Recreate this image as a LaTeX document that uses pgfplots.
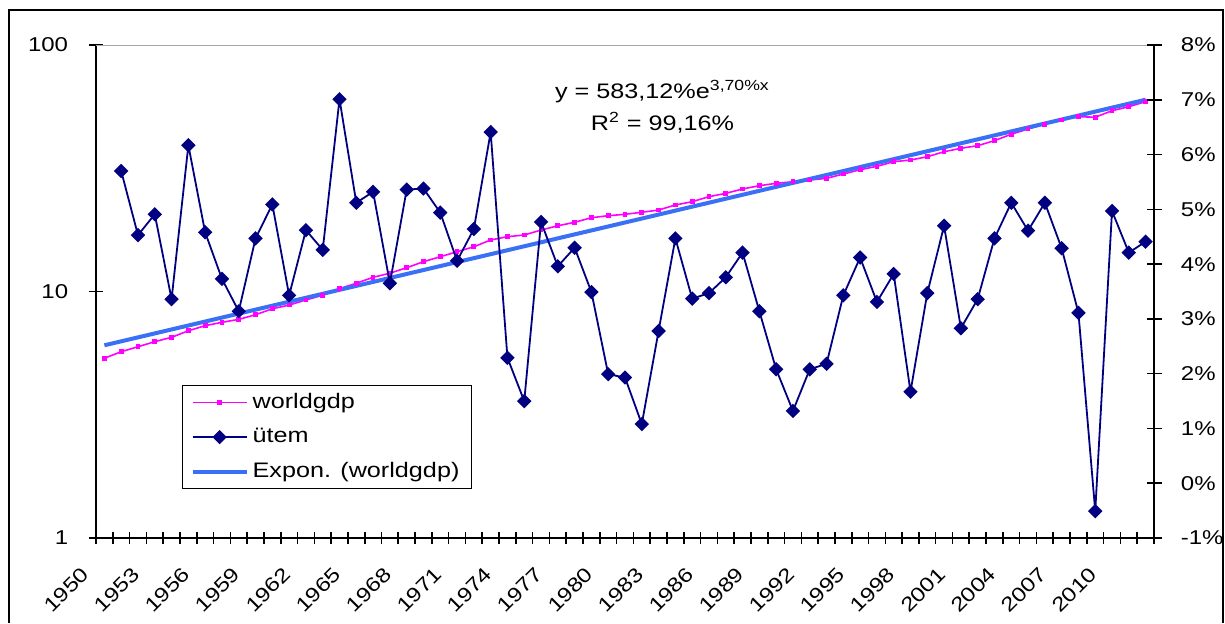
\documentclass[border=0pt]{standalone}
\usepackage{pgfplots}
\pgfplotsset{compat=1.18}
\usepackage{fontspec}
\setmainfont{Liberation Sans}[FakeStretch=1.2]
\definecolor{gdppink}{RGB}{255,0,255}
\definecolor{utemnavy}{RGB}{0,0,128}
\definecolor{trendblue}{RGB}{58,112,245}
\begin{document}
\begin{tikzpicture}
\path[use as bounding box] (0,0) rectangle (612.5pt,311.5pt);
\draw[line width=0.7pt] (4.5pt,0) -- (4.5pt,306.5pt) -- (611.5pt,306.5pt) -- (611.5pt,0);
\pgfplotsset{
  every axis/.append style={
    scale only axis, width=529pt, height=246.5pt,
    at={(48pt,42.5pt)}, anchor=south west,
    xmin=1949.5, xmax=2012.5,
    tick align=center,
    /pgf/number format/assume math mode=true,
    tick label style={font=\fontsize{10pt}{12pt}\selectfont},
    axis line style={line width=0.8pt},
    every tick/.style={black, line width=0.8pt},
  }
}
\begin{axis}[
  ymode=log, ymin=1, ymax=100,
  axis x line*=bottom, axis y line*=left,
  ytick={1,10,100}, yticklabels={1,10,100},
  yticklabel style={anchor=east, inner sep=0pt, xshift=-10pt},
  yminorticks=false,
  major tick length=7.5pt,
  minor tick length=6pt,
  xtick={1950,1953,...,2010},
  xticklabels={1950,1953,1956,1959,1962,1965,1968,1971,1974,1977,1980,1983,1986,1989,1992,1995,1998,2001,2004,2007,2010},
  minor xtick={1949.5,1950.5,...,2012.5},
  major x tick style={draw=none},
  xticklabel style={xshift=-12pt, yshift=-10pt, rotate=45, anchor=north east, inner sep=0pt},
  legend cell align=left,
  legend style={at={(0.0813,0.3103)}, anchor=north west, draw=black, line width=0.6pt,
    font=\fontsize{10.5pt}{12.6pt}\selectfont, inner xsep=4pt, inner ysep=1.9pt,
    row sep=4.4pt},
  legend image code/.code={\draw[mark repeat=2,mark phase=2,#1] plot coordinates {(0pt,0pt) (13.5pt,0pt) (27pt,0pt)};},
]
\draw[gray!70, line width=0.7pt] (rel axis cs:0,1) -- (rel axis cs:1,1);
\addplot[gdppink, line width=0.8pt, mark=square*, mark size=0.8pt] coordinates {
(1950,5.36) (1951,5.70) (1952,5.97) (1953,6.26) (1954,6.52) (1955,6.93) (1956,7.27) (1957,7.50) (1958,7.71) (1959,8.05)
(1960,8.51) (1961,8.81) (1962,9.24) (1963,9.66) (1964,10.27) (1965,10.80) (1966,11.42) (1967,11.86) (1968,12.49) (1969,13.21)
(1970,13.84) (1971,14.50) (1972,15.19) (1973,16.18) (1974,16.69) (1975,16.95) (1976,17.76) (1977,18.48) (1978,19.09) (1979,19.93)
(1980,20.30) (1981,20.57) (1982,20.96) (1983,21.41) (1984,22.44) (1985,23.14) (1986,24.25) (1987,25.02) (1988,26.06) (1989,26.87)
(1990,27.47) (1991,27.88) (1992,28.33) (1993,28.78) (1994,29.97) (1995,31.20) (1996,32.20) (1997,33.63) (1998,34.15) (1999,35.22)
(2000,36.91) (2001,38.10) (2002,39.05) (2003,40.93) (2004,43.45) (2005,45.62) (2006,47.67) (2007,49.63) (2008,51.18) (2009,50.95)
(2010,54.12) (2011,56.20) (2012,58.90)
};
\addlegendentry{worldgdp}
\addlegendimage{utemnavy, line width=0.9pt, mark=square*, mark size=2.1pt, mark options={rotate=45}}
\addlegendentry{ütem}
\addplot[trendblue, line width=2pt] coordinates {
(1950,6.051) (1960,8.760) (1970,12.683) (1980,18.361) (1990,26.58) (2000,38.48) (2010,55.71) (2012,59.99)
};
\addlegendentry{Expon. (worldgdp)}
\node[font=\fontsize{10.5pt}{12pt}\selectfont] at (rel axis cs:0.5354,0.9053) {y = 583,12\%e\textsuperscript{3,70\%x}};
\node[font=\fontsize{10.5pt}{12pt}\selectfont] at (rel axis cs:0.5354,0.8418) {R\textsuperscript{2} = 99,16\%};
\end{axis}
\begin{axis}[
  ymin=-1, ymax=8,
  axis x line=none, axis y line*=right,
  ytick={-1,0,1,2,3,4,5,6,7,8},
  yticklabels={-1\%,0\%,1\%,2\%,3\%,4\%,5\%,6\%,7\%,8\%},
  yticklabel style={anchor=west, inner sep=0pt, xshift=9.5pt},
  major tick length=7.5pt,
]
\addplot[utemnavy, line width=0.9pt, mark=square*, mark size=2.1pt, mark options={rotate=45}] coordinates {
(1951,5.70) (1952,4.53) (1953,4.91) (1954,3.36) (1955,6.17) (1956,4.58) (1957,3.73) (1958,3.14) (1959,4.47)
(1960,5.09) (1961,3.43) (1962,4.62) (1963,4.26) (1964,7.01) (1965,5.12) (1966,5.32) (1967,3.65) (1968,5.36) (1969,5.38)
(1970,4.94) (1971,4.06) (1972,4.64) (1973,6.41) (1974,2.29) (1975,1.50) (1976,4.77) (1977,3.96) (1978,4.30) (1979,3.49)
(1980,1.99) (1981,1.93) (1982,1.08) (1983,2.78) (1984,4.47) (1985,3.37) (1986,3.47) (1987,3.76) (1988,4.21) (1989,3.14)
(1990,2.08) (1991,1.32) (1992,2.08) (1993,2.18) (1994,3.43) (1995,4.12) (1996,3.31) (1997,3.82) (1998,1.67) (1999,3.47)
(2000,4.70) (2001,2.83) (2002,3.36) (2003,4.47) (2004,5.12) (2005,4.61) (2006,5.12) (2007,4.29) (2008,3.11) (2009,-0.51)
(2010,4.97) (2011,4.21) (2012,4.41)
};
\end{axis}
\end{tikzpicture}
\end{document}
